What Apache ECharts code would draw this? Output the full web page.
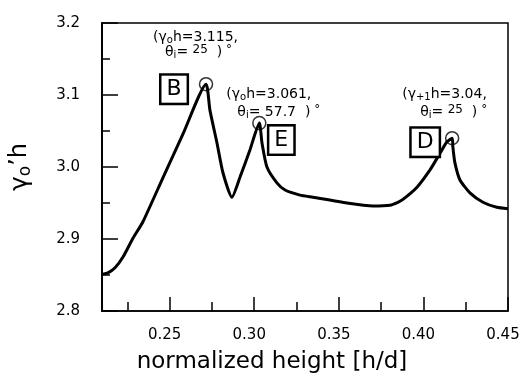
<!DOCTYPE html>
<html><head><meta charset="utf-8">
<script src="https://cdn.jsdelivr.net/npm/echarts@6/dist/echarts.min.js"></script>
<style>html,body{margin:0;padding:0;background:#fff}#c{width:522px;height:376px}</style>
</head><body><div id="c"></div>
<script>
// ---- data ----
const curveX = [0.2100,0.2135,0.2177,0.2224,0.2283,0.2342,0.2460,0.2579,0.2715,
  0.2738,0.2780,0.2815,0.2868,0.2916,0.2975,0.3030,0.3046,0.3075,0.3134,0.3182,0.3270,
  0.3347,0.3548,0.3702,0.3802,0.3849,0.3879,0.3962,0.4039,0.4098,0.4139,0.4170,
  0.4174,0.4186,0.4216,0.4275,0.4352,0.4434,0.4500];
const curveY = [2.851,2.853,2.860,2.875,2.901,2.924,2.985,3.046,3.115,
  3.079,3.033,2.992,2.958,2.986,3.024,3.061,3.033,3.000,2.978,2.968,2.961,
  2.958,2.950,2.946,2.947,2.951,2.955,2.972,2.996,3.019,3.035,3.040,
  3.028,3.006,2.982,2.964,2.951,2.944,2.942];
const peakX = [0.2715, 0.3030, 0.4170];
const peakY = [3.115, 3.061, 3.040];
const peakTags = ['B', 'E', 'D'];
const gammaSub = ['o', 'o', '+1'];
const gammaVal = ['3.115', '3.061', '3.04'];
const thetaVal = ['25', '57.7', '25'];
const xTicks = [0.25, 0.30, 0.35, 0.40, 0.45];
const xMinor = [0.225, 0.275, 0.325, 0.375, 0.425];
const yTicks = [2.8, 2.9, 3.0, 3.1, 3.2];
const yMinor = [2.85, 2.95, 3.05, 3.15];

// ---- style constants (label placement relative to each peak, px) ----
const line1Off = [[-53, -47], [-33, -29], [-50, -44]];
const line2Off = [[-41, -32], [-22, -11], [-32, -26]];
const boxOff = [[-32, 5], [22, 17], [-27, 4]];
const thetaRaised = [true, false, true];

const FF = 'DejaVu Sans';
const base = { color: '#000', textBorderWidth: 0, textShadowBlur: 0, opacity: 1 };
const richAnn = {
  t: Object.assign({ fontFamily: FF, fontSize: 14, lineHeight: 16, verticalAlign: 'middle' }, base),
  s: Object.assign({ fontFamily: FF, fontSize: 10, lineHeight: 16, verticalAlign: 'bottom', padding: [8, 0, 0, 0] }, base),
  u: Object.assign({ fontFamily: FF, fontSize: 12, lineHeight: 16, verticalAlign: 'top', padding: [0, 0, 4, 0] }, base)
};

const chart = echarts.init(document.getElementById('c'), null, { renderer: 'canvas' });

const peaks = peakX.map((x, i) => [x, peakY[i]]);

const line1Data = peaks.map((p, i) => ({
  value: p,
  label: Object.assign({
    show: true, position: 'inside', align: 'left', verticalAlign: 'middle',
    offset: line1Off[i],
    formatter: '{t|(γ}{s|' + gammaSub[i] + '}{t|h=' + gammaVal[i] + ',}',
    rich: richAnn
  }, base)
}));
const line2Data = peaks.map((p, i) => ({
  value: p,
  label: Object.assign({
    show: true, position: 'inside', align: 'left', verticalAlign: 'middle',
    offset: line2Off[i],
    formatter: '{t|θ}{s|i}{t|= }' + (thetaRaised[i] ? '{u|' + thetaVal[i] + '}' : '{t|' + thetaVal[i] + '}') + '{t|  )}{u| °}',
    rich: richAnn
  }, base)
}));
const boxData = peaks.map((p, i) => ({
  value: p,
  label: Object.assign({
    show: true, position: 'inside', align: 'center', verticalAlign: 'middle',
    offset: boxOff[i],
    formatter: peakTags[i],
    fontFamily: FF, fontSize: 22, lineHeight: 22,
    borderColor: '#000', borderWidth: 2.5, padding: [3, 5, 2, 5], backgroundColor: '#fff'
  }, base)
}));

const hidden = { color: 'rgba(0,0,0,0)' };

const option = {
  animation: false,
  backgroundColor: '#fff',
  grid: { left: 102, right: 14, top: 23, bottom: 65, outerBoundsMode: 'none', containLabel: false, show: true, borderColor: '#000', borderWidth: 1.5, backgroundColor: 'rgba(0,0,0,0)' },
  xAxis: [
    {
      type: 'value', min: 0.21, max: 0.45, position: 'bottom',
      axisLine: { show: true, onZero: false, lineStyle: { color: '#000', width: 1.5 } },
      axisTick: { show: true, inside: true, length: 14, customValues: xTicks, lineStyle: { color: '#000', width: 1.5 } },
      axisLabel: { customValues: xTicks, formatter: v => v.toFixed(2), fontFamily: FF, fontSize: 15, color: '#000', margin: 17, padding: [0, 10, 0, 0] },
      splitLine: { show: false },
      name: 'normalized height [h/d]', nameLocation: 'middle', nameGap: 40,
      nameTextStyle: { fontFamily: FF, fontSize: 23, color: '#000', padding: [0, 66, 0, 0] }
    },
    {
      type: 'value', min: 0.21, max: 0.45, position: 'bottom',
      axisLine: { show: false },
      axisTick: { show: true, inside: true, length: 9, customValues: xMinor, lineStyle: { color: '#000', width: 1.5 } },
      axisLabel: { show: false }, splitLine: { show: false }
    }
  ],
  yAxis: [
    {
      type: 'value', min: 2.8, max: 3.2, position: 'left',
      axisLine: { show: true, onZero: false, lineStyle: { color: '#000', width: 2 } },
      axisTick: { show: true, inside: true, length: 16, customValues: yTicks, lineStyle: { color: '#000', width: 1.5 } },
      axisLabel: { customValues: yTicks, formatter: v => v.toFixed(1), fontFamily: FF, fontSize: 15, color: '#000', margin: 22, padding: [0, 0, 8, 0] },
      splitLine: { show: false },
      name: '{g|γ}{s|o}{t|\u2019h}', nameLocation: 'middle', nameGap: 68, nameRotate: 90,
      nameTextStyle: {
        rich: {
          g: { fontFamily: FF, fontSize: 25, color: '#000', lineHeight: 28 },
          s: { fontFamily: FF, fontSize: 17, color: '#000', lineHeight: 28, verticalAlign: 'bottom', padding: [8, 0, 0, 0] },
          t: { fontFamily: FF, fontSize: 24, color: '#000', lineHeight: 28 }
        }
      }
    },
    {
      type: 'value', min: 2.8, max: 3.2, position: 'left',
      axisLine: { show: false },
      axisTick: { show: true, inside: true, length: 8, customValues: yMinor, lineStyle: { color: '#000', width: 1.5 } },
      axisLabel: { show: false }, splitLine: { show: false }
    }
  ],
  series: [
    {
      type: 'line', xAxisIndex: 0, yAxisIndex: 0,
      data: curveX.map((x, i) => [x, curveY[i]]),
      symbol: 'none', smooth: 0.2,
      lineStyle: { color: '#000', width: 3 }, z: 2
    },
    {
      type: 'scatter', data: peaks, symbol: 'circle', symbolSize: 13,
      itemStyle: { color: 'rgba(0,0,0,0)', borderColor: '#000', borderWidth: 1.5 }, z: 3, silent: true
    },
    { type: 'scatter', data: line1Data, symbolSize: 1, itemStyle: hidden, z: 4, silent: true },
    { type: 'scatter', data: line2Data, symbolSize: 1, itemStyle: hidden, z: 4, silent: true },
    { type: 'scatter', data: boxData, symbolSize: 1, itemStyle: hidden, z: 4, silent: true }
  ]
};
chart.setOption(option);
</script>
</body></html>
